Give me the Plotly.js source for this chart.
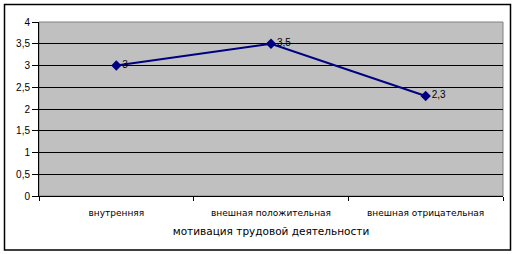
<!DOCTYPE html>
<html>
<head>
<meta charset="utf-8">
<script src="https://cdn.plot.ly/plotly-3.0.1.min.js"></script>
<style>
html,body{margin:0;padding:0;background:#fff;}
#chart{width:515px;height:254px;}
</style>
</head>
<body>
<div id="chart"></div>
<script>
const categories = ["внутренняя", "внешная положительная", "внешная отрицательная"];
const values = [3, 3.5, 2.3];
const yTickValues = [0, 0.5, 1, 1.5, 2, 2.5, 3, 3.5, 4];
const yTickLabels = ["0", "0,5", "1", "1,5", "2", "2,5", "3", "3,5", "4"];
const xAxisTitle = "мотивация трудовой деятельности";

const W = 515, H = 254;
const L = 39, R = 12, T = 22, B = 58;
const pw = W - L - R, ph = H - T - B;
const font = "Liberation Sans, Arial, sans-serif";
const wideFont = "DejaVu Sans, Verdana, sans-serif";

const trace = {
  x: categories,
  y: values,
  type: "scatter",
  mode: "lines+markers+text",
  text: values.map(v => String(v).replace(".", ",")),
  textposition: "middle right",
  textfont: {family: font, size: 10, color: "#000"},
  line: {color: "#000080", width: 2},
  marker: {symbol: "diamond", size: 8, color: "#000080"},
  cliponaxis: false,
  hoverinfo: "none"
};

const layout = {
  width: W, height: H,
  margin: {l: L, r: R, t: T, b: B, pad: 0},
  paper_bgcolor: "#ffffff",
  plot_bgcolor: "#c0c0c0",
  showlegend: false,
  font: {family: font, size: 10, color: "#000"},
  xaxis: {
    type: "category",
    range: [-0.5, 2.5],
    tickson: "boundaries",
    ticks: "outside",
    ticklen: 4,
    tickcolor: "#000",
    tickwidth: 1,
    ticklabelstandoff: 8,
    showline: true,
    linecolor: "#000",
    linewidth: 1,
    showgrid: false,
    tickfont: {family: wideFont, size: 9, color: "#000"},
    title: {text: xAxisTitle, font: {family: wideFont, size: 10.5, color: "#000"}, standoff: 10},
    fixedrange: true
  },
  yaxis: {
    range: [0, 4],
    tickvals: yTickValues,
    ticktext: yTickLabels,
    ticks: "outside",
    ticklen: 6,
    tickcolor: "#000",
    showline: true,
    linecolor: "#000",
    linewidth: 1,
    showgrid: true,
    gridcolor: "#000",
    gridwidth: 1,
    zeroline: false,
    tickfont: {family: font, size: 10, color: "#000"},
    fixedrange: true
  },
  shapes: [
    {type: "rect", xref: "paper", yref: "paper", x0: 0, x1: 1, y0: 0, y1: 1,
     line: {color: "#808080", width: 1}, fillcolor: "rgba(0,0,0,0)", layer: "below"},
    {type: "rect", xref: "paper", yref: "paper",
     x0: (4.5 - L) / pw, x1: (510.5 - L) / pw,
     y0: (H - B - 250) / ph, y1: (H - B - 4.5) / ph,
     line: {color: "#000", width: 1.5}, fillcolor: "rgba(0,0,0,0)"}
  ]
};

Plotly.newPlot("chart", [trace], layout, {displayModeBar: false, staticPlot: true});
</script>
</body>
</html>
